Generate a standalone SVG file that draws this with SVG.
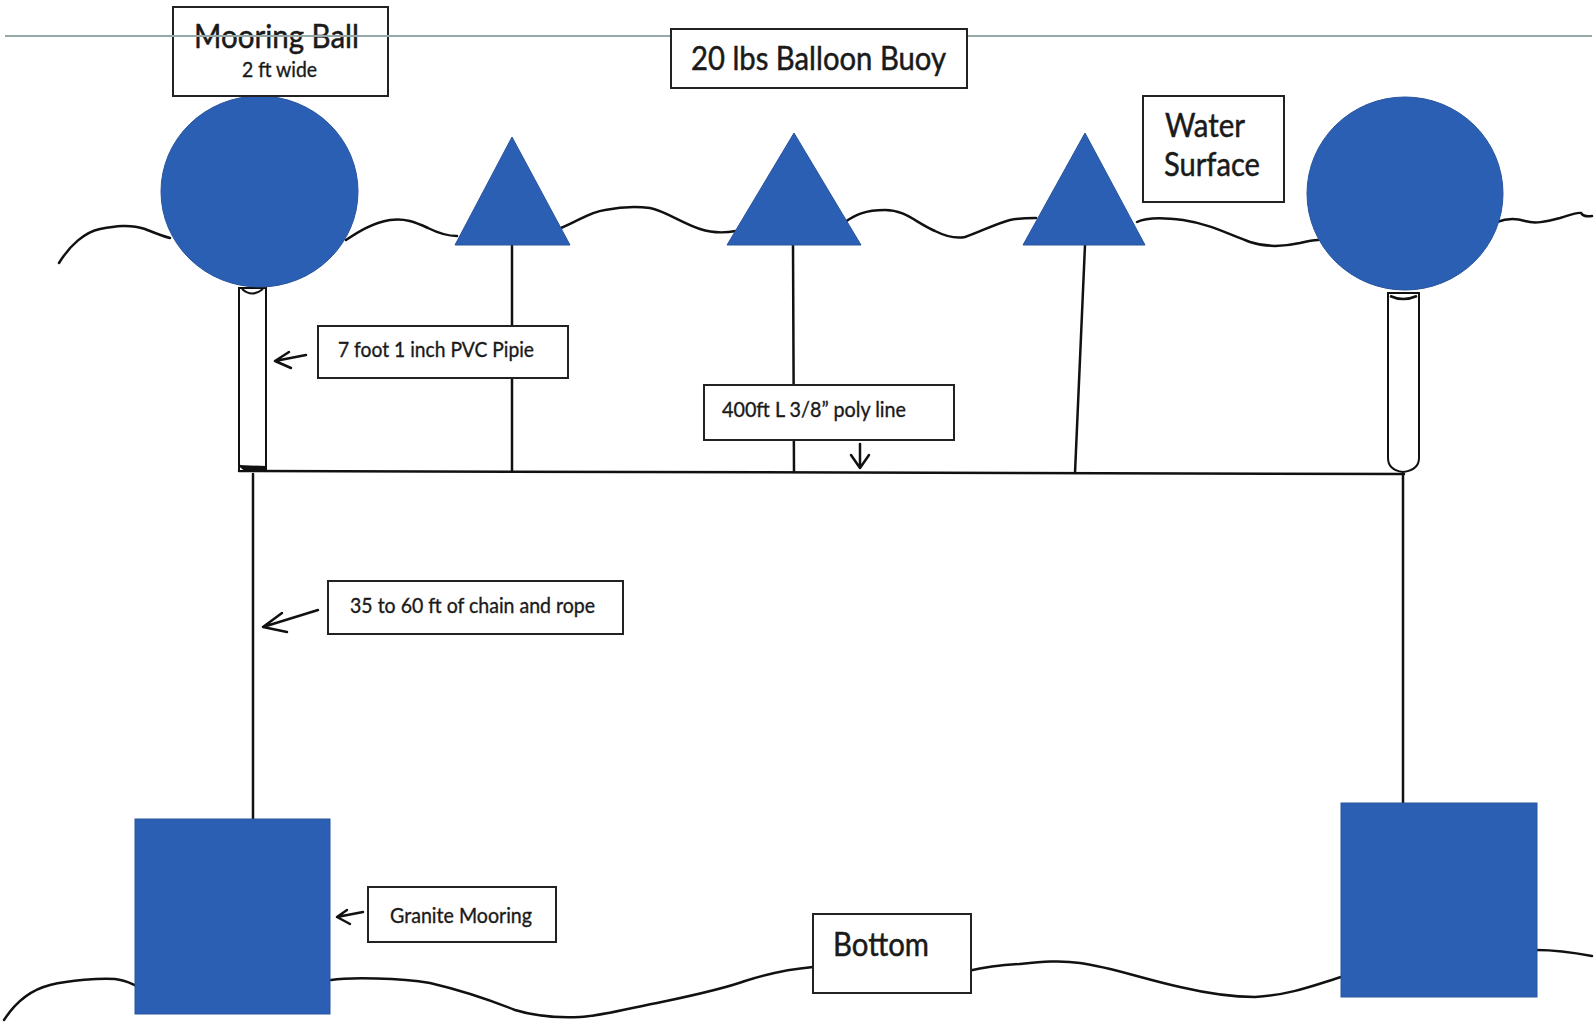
<svg xmlns="http://www.w3.org/2000/svg" width="1595" height="1022" viewBox="0 0 1595 1022">
<style>
.blue{fill:#2b5fb3;stroke:#28549e;stroke-width:1}
.line{fill:none;stroke:#111;stroke-width:2.5;stroke-linecap:round;stroke-linejoin:round}
.wave{fill:none;stroke:#111;stroke-width:2.5;stroke-linecap:round}
.box{fill:#fff;stroke:#222;stroke-width:2}
.big{font-family:Lato,"Open Sans","Liberation Sans",sans-serif;font-size:32px;fill:#1a1a1a;stroke:#1a1a1a;stroke-width:0.5}
.mid{font-family:Lato,"Open Sans","Liberation Sans",sans-serif;font-size:21px;fill:#1a1a1a;stroke:#1a1a1a;stroke-width:0.35}
.pipe{fill:#fff;stroke:#111;stroke-width:2}
.guide{stroke:#95aaa8;stroke-width:2;fill:none}
</style>
<rect width="1595" height="1022" fill="#fff"/>
<g id="water-surface-line">
<path class="wave" d="M59,263 C70,245 85,232 100,229 C115,226 130,224 145,229 C155,233 162,236 170,238"/>
<path class="wave" d="M346,240 C358,232 372,223 390,220 C405,218 415,222 428,228 C438,233 447,236 457,236"/>
<path class="wave" d="M561,228 C580,220 590,212 605,210 C620,207 635,206 650,208 C665,211 680,222 700,229 C712,233 725,233 736,231"/>
<path class="wave" d="M845,222 C855,215 865,210 885,210 C905,210 915,222 935,231 C945,236 955,239 965,237 C980,232 995,224 1010,220 C1020,218 1028,218 1036,218"/>
<path class="wave" d="M1137,222 C1145,218 1160,217 1183,220 C1210,224 1230,235 1250,242 C1265,247 1282,247 1300,243 C1308,241 1312,240 1318,240"/>
<path class="wave" d="M1497,222 C1505,219 1515,218 1525,221 C1535,224 1545,222 1560,218 C1570,215 1577,212 1581,213 C1583,216 1586,217 1592,216"/>
</g>
<g id="bottom-line">
<path class="wave" d="M4,1020 C15,1003 30,990 50,985 C70,980 100,978 115,979 C125,980 132,984 137,986"/>
<path class="wave" d="M331,980 C350,977 400,978 430,983 C460,990 490,1000 515,1010 C535,1016 560,1018 580,1017 C600,1016 620,1010 657,1003 C690,996 720,990 745,981 C770,973 790,969 813,967"/>
<path class="wave" d="M968,971 C985,967 1000,965 1019,964 C1040,962 1060,960 1080,963 C1110,967 1140,978 1180,987 C1210,994 1230,997 1255,997 C1290,995 1315,985 1341,977"/>
<path class="wave" d="M1537,950 C1550,950 1565,951 1592,956"/>
</g>
<g id="connectors">
<path class="line" d="M512,245 L512,471"/>
<path class="line" d="M793,245 L794,472"/>
<path class="line" d="M1085,245 L1075,473"/>
<path class="line" d="M239,471 L1404,474"/>
<path class="line" d="M253,474 L253,820"/>
<path class="line" d="M1403,474 L1403,804"/>
</g>
<g id="pvc-pipe-left">
<rect class="pipe" x="239" y="288" width="27" height="183"/>
<path d="M242,289 Q252,298 263,289" fill="none" stroke="#111" stroke-width="2"/>
<path d="M239,465 L246,471 L266,471 L266,466" fill="#111" stroke="#111" stroke-width="2"/>
</g>
<g id="pvc-pipe-right">
<path class="pipe" d="M1388,293 L1388,458 Q1388,470 1403,472 Q1419,470 1419,458 L1419,293 Z"/>
<path d="M1390,296 Q1403,302 1417,296" fill="none" stroke="#111" stroke-width="2.5"/>
</g>
<g id="mooring-ball-left"><ellipse class="blue" cx="259.5" cy="191.5" rx="98.5" ry="95.5"/></g>
<g id="mooring-ball-right"><ellipse class="blue" cx="1405" cy="193.5" rx="98" ry="96.5"/></g>
<g id="balloon-buoy-1"><polygon class="blue" points="512,137 570,245 455,245"/></g>
<g id="balloon-buoy-2"><polygon class="blue" points="794,133 861,245 727,245"/></g>
<g id="balloon-buoy-3"><polygon class="blue" points="1085,133 1145,245 1023,245"/></g>
<g id="granite-mooring-left"><rect class="blue" x="135" y="819" width="195" height="195"/></g>
<g id="granite-mooring-right"><rect class="blue" x="1341" y="803" width="196" height="194"/></g>
<g id="label-mooring-ball">
<rect class="box" x="173" y="7" width="215" height="89"/>
<text class="big" x="194" y="48" textLength="165" lengthAdjust="spacingAndGlyphs">Mooring Ball</text>
<text class="mid" x="242" y="77" textLength="75" lengthAdjust="spacingAndGlyphs">2 ft wide</text>
</g>
<g id="guide-line">
<path class="guide" d="M5,36 L671,36"/>
<path class="guide" d="M967,36 L1592,36"/>
</g>
<g id="label-balloon-buoy">
<rect class="box" x="671" y="29" width="296" height="59"/>
<text class="big" x="691" y="70" textLength="255" lengthAdjust="spacingAndGlyphs">20 lbs Balloon Buoy</text>
</g>
<g id="label-water-surface">
<rect class="box" x="1143" y="96" width="141" height="106"/>
<text class="big" x="1165" y="137" textLength="80" lengthAdjust="spacingAndGlyphs">Water</text>
<text class="big" x="1164" y="176" textLength="96" lengthAdjust="spacingAndGlyphs">Surface</text>
</g>
<g id="label-pvc-pipe">
<rect class="box" x="318" y="326" width="250" height="52"/>
<text class="mid" x="338" y="357" textLength="196" lengthAdjust="spacingAndGlyphs">7 foot 1 inch PVC Pipie</text>
<path class="line" d="M306,355 L275,361 M289,352 L275,361 L291,368"/>
</g>
<g id="label-poly-line">
<rect class="box" x="704" y="385" width="250" height="55"/>
<text class="mid" x="722" y="417" textLength="184" lengthAdjust="spacingAndGlyphs">400ft L 3/8” poly line</text>
<path class="line" d="M860,444 L860,468 M851,455 L860,468 L869,455"/>
</g>
<g id="label-chain">
<rect class="box" x="328" y="581" width="295" height="53"/>
<text class="mid" x="350" y="613" textLength="245" lengthAdjust="spacingAndGlyphs">35 to 60 ft of chain and rope</text>
<path class="line" d="M318,610 L263,627 M282,613 L263,627 L287,632"/>
</g>
<g id="label-granite">
<rect class="box" x="368" y="887" width="188" height="55"/>
<text class="mid" x="390" y="923" textLength="142" lengthAdjust="spacingAndGlyphs">Granite Mooring</text>
<path class="line" d="M363,912 L337,917 M347,910 L337,917 L350,924"/>
</g>
<g id="label-bottom">
<rect class="box" x="813" y="914" width="158" height="79"/>
<text class="big" x="833" y="956" textLength="96" lengthAdjust="spacingAndGlyphs">Bottom</text>
</g>
</svg>
